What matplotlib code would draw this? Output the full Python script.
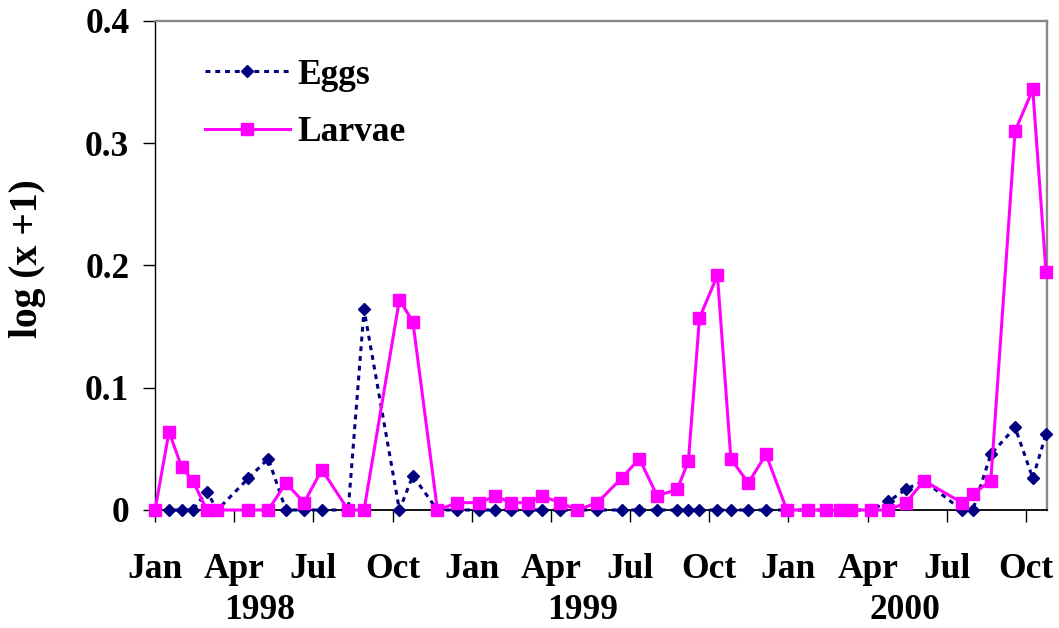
import matplotlib
matplotlib.use("Agg")
import matplotlib.pyplot as plt

# Sampling time, in months since 1 Jan 1998
months = [0.00, 0.53, 1.01, 1.43, 1.96, 2.36, 3.54, 4.29, 4.96, 5.65,
          6.32, 7.32, 7.92, 9.26, 9.77, 10.70, 11.46, 12.29, 12.90, 13.48,
          14.15, 14.66, 15.34, 16.00, 16.76, 17.68, 18.35, 19.03, 19.79, 20.21,
          20.63, 21.31, 21.82, 22.48, 23.15, 23.94, 24.76, 25.43, 25.96, 26.36,
          27.12, 27.79, 28.46, 29.14, 30.57, 30.99, 31.67, 32.59, 33.26, 33.76]

eggs = [0, 0, 0, 0, 0.015, 0, 0.026, 0.042, 0, 0,
        0, 0, 0.164, 0, 0.028, 0, 0, 0, 0, 0,
        0, 0, 0, 0, 0, 0, 0, 0, 0, 0,
        0, 0, 0, 0, 0, 0, 0, 0, 0, 0,
        0, 0.007, 0.017, 0.024, 0, 0, 0.0456, 0.0675, 0.026, 0.062]

larvae = [0, 0.064, 0.035, 0.024, 0, 0, 0, 0, 0.022, 0.006,
          0.033, 0, 0, 0.172, 0.154, 0, 0.006, 0.006, 0.0115, 0.006,
          0.006, 0.0115, 0.006, 0, 0.006, 0.026, 0.042, 0.0115, 0.017, 0.040,
          0.157, 0.192, 0.042, 0.022, 0.0456, 0, 0, 0, 0, 0,
          0, 0, 0.006, 0.024, 0.006, 0.013, 0.024, 0.31, 0.344, 0.195]

tick_months = [0, 3, 6, 9, 12, 15, 18, 21, 24, 27, 30, 33]
tick_labels = ["Jan", "Apr", "Jul", "Oct"] * 3
years = ["1998", "1999", "2000"]
year_pos = [3.95, 16.2, 28.4]
y_ticks = [0, 0.1, 0.2, 0.3, 0.4]
y_tick_labels = ["0", "0.1", "0.2", "0.3", "0.4"]

plt.rcParams["font.family"] = ["Liberation Serif", "DejaVu Serif"]
plt.rcParams["font.weight"] = "bold"

fig = plt.figure(figsize=(10.59, 6.28), dpi=100)
ax = fig.add_axes([0.1464, 0.1879, 0.9887 - 0.1464, 0.9666 - 0.1879])

navy = "#000080"
mag = "#FF00FF"

ax.plot(months, eggs, color=navy, lw=2.2, dashes=(1.6, 1.6), marker="D",
        ms=6.0, mfc=navy, mec=navy, clip_on=False, zorder=3, label="Eggs")
ax.plot(months, larvae, color=mag, lw=2.2, marker="s", ms=8.0,
        mfc=mag, mec=mag, clip_on=False, zorder=4, label="Larvae")

ax.set_xlim(0, 33.8)
ax.set_ylim(0, 0.4)
ax.set_xticks(tick_months)
ax.set_xticklabels(tick_labels)
ax.set_yticks(y_ticks)
ax.set_yticklabels(y_tick_labels)
ax.tick_params(axis="both", direction="out", length=8.5, width=1.0,
               labelsize=25.5, color="black")
ax.tick_params(axis="y", pad=10)
ax.tick_params(axis="x", pad=22.5)

for lab in ax.get_xticklabels() + ax.get_yticklabels():
    lab.set_fontweight("bold")

ax.spines["left"].set_color("black")
ax.spines["left"].set_linewidth(1.0)
ax.spines["bottom"].set_color("black")
ax.spines["bottom"].set_linewidth(1.3)
ax.spines["top"].set_color("#888888")
ax.spines["top"].set_linewidth(1.7)
ax.spines["right"].set_color("#888888")
ax.spines["right"].set_linewidth(1.7)

for yr, pos in zip(years, year_pos):
    ax.text(pos, -0.206, yr, transform=ax.get_xaxis_transform(),
            ha="center", va="center", fontsize=25.5, fontweight="bold")

fig.text(28 / 1059, 1 - 259 / 628, "log (x +1)", rotation=90,
         ha="center", va="center", fontsize=28.5, fontweight="bold")

leg = ax.legend(loc="upper left", bbox_to_anchor=(0.04, 0.952), frameon=False,
                fontsize=25.5, handlelength=2.4, handletextpad=0.22,
                labelspacing=0.7, borderaxespad=0)
for t in leg.get_texts():
    t.set_fontweight("bold")

fig.savefig("out.png", dpi=100)
